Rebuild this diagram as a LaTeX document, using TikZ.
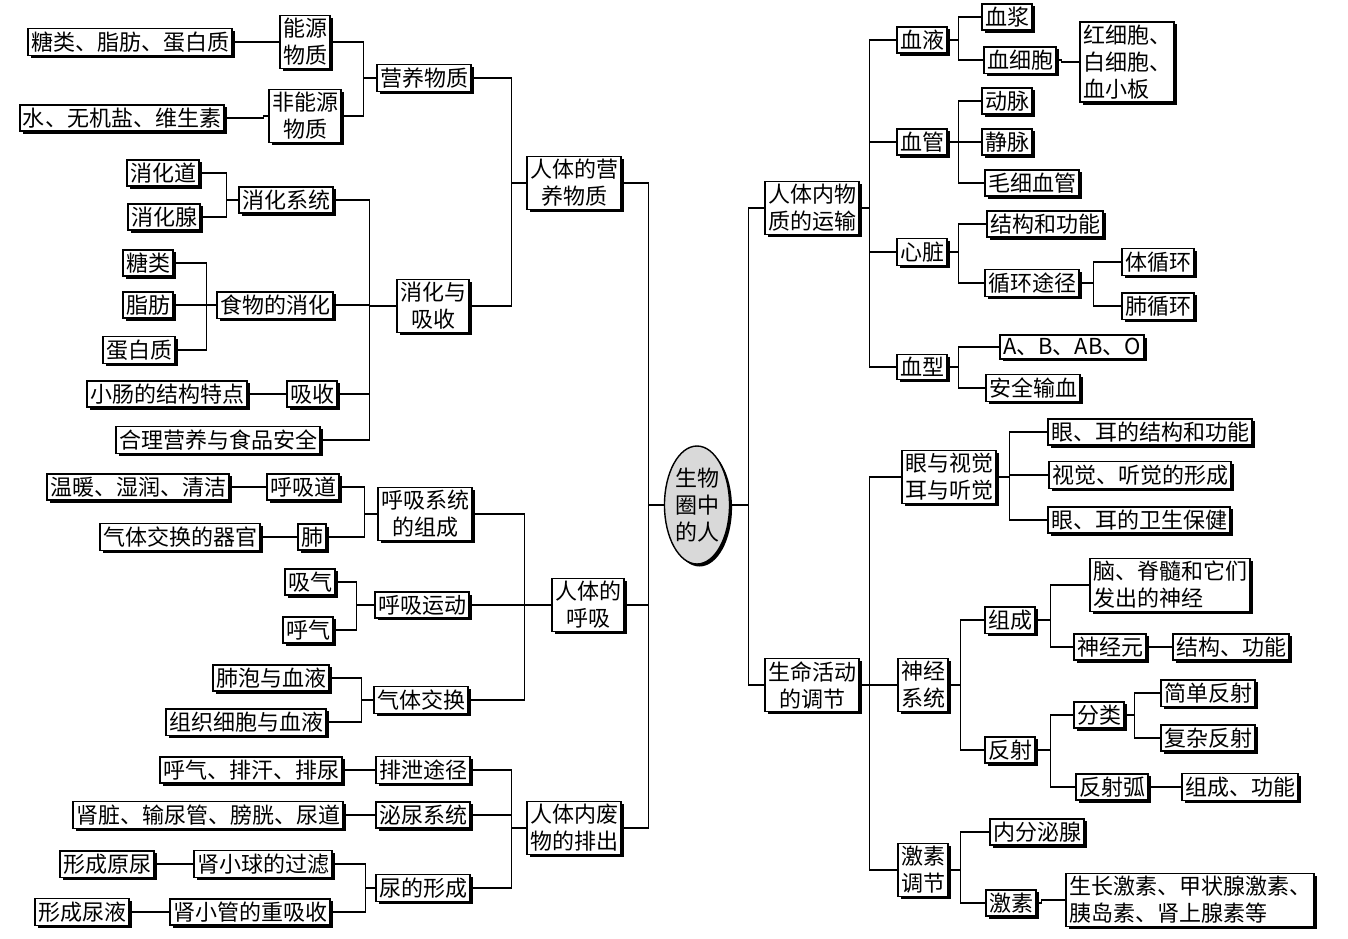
\documentclass[tikz,border=0pt]{standalone}
\usepackage{fontspec}
\newfontfamily\cjk{Noto Sans CJK SC}
\usetikzlibrary{shadows,shapes.geometric}
\newcommand\lk[3]{\draw[ln] (#2.east) -| ([xshift=-#3]#1.west) -- (#1.west);}
\newcommand\rk[3]{\draw[ln] (#1.east) -- ([xshift=#3]#1.east) |- (#2.west);}
\begin{document}
\begin{tikzpicture}[x=1pt,y=-1pt,
  font=\cjk\fontsize{22}{27}\selectfont,
  box/.style={draw,line width=1.4pt,fill=white,inner sep=3pt,align=center,
    drop shadow={shadow xshift=2.5pt,shadow yshift=-2.5pt,fill=black,opacity=1}},
  ln/.style={line width=1.4pt}]
\useasboundingbox (0,0) rectangle (1348,938);
\node[box,ellipse,fill=gray!30,inner sep=1pt,minimum width=60,minimum height=118] (c) at (697,505) {生物\\圈中\\的人};
% left
\node[box] (yy) at (574,183) {人体的营\\养物质};
\node[box] (hx) at (588,605) {人体的\\呼吸};
\node[box] (fw) at (574,828) {人体内废\\物的排出};
\node[box] (yywz) at (424,78) {营养物质};
\node[box] (xhxs) at (433,306) {消化与\\吸收};
\node[box] (nywz) at (305,42) {能源\\物质};
\node[box] (fny) at (305,116) {非能源\\物质};
\node[box] (tl1) at (130,42) {糖类、脂肪、蛋白质};
\node[box] (swy) at (122,118) {水、无机盐、维生素};
\node[box] (xhxt) at (286,200) {消化系统};
\node[box] (swxh) at (275,305) {食物的消化};
\node[box] (xs) at (312,394) {吸收};
\node[box] (hlyy) at (218,440) {合理营养与食品安全};
\node[box] (xhd) at (163,173) {消化道};
\node[box] (xhx) at (164,217) {消化腺};
\node[box] (tl) at (148,263) {糖类};
\node[box] (zf) at (148,305) {脂肪};
\node[box] (dbz) at (139,350) {蛋白质};
\node[box] (xc) at (167,394) {小肠的结构特点};
\node[box] (hxxt) at (425,514) {呼吸系统\\的组成};
\node[box] (hxyd) at (422,605) {呼吸运动};
\node[box] (qtjh) at (421,700) {气体交换};
\node[box] (hxd) at (303,487) {呼吸道};
\node[box] (fei) at (312,537) {肺};
\node[box] (wn) at (138,487) {温暖、湿润、清洁};
\node[box] (qtqg) at (180,537) {气体交换的器官};
\node[box] (xq) at (310,582) {吸气};
\node[box] (hq) at (308,630) {呼气};
\node[box] (fp) at (271,678) {肺泡与血液};
\node[box] (zz) at (246,722) {组织细胞与血液};
\node[box] (pxtj) at (423,770) {排泄途径};
\node[box] (mnxt) at (423,815) {泌尿系统};
\node[box] (ndxc) at (423,888) {尿的形成};
\node[box] (hqpn) at (251,770) {呼气、排汗、排尿};
\node[box] (sz) at (208,815) {肾脏、输尿管、膀胱、尿道};
\node[box] (sxq) at (263,864) {肾小球的过滤};
\node[box] (sxg) at (250,912) {肾小管的重吸收};
\node[box] (xcyn) at (107,864) {形成原尿};
\node[box] (xcny) at (82,912) {形成尿液};
% right
\node[box] (ys) at (812,208) {人体内物\\质的运输};
\node[box] (tj) at (812,685) {生命活动\\的调节};
\node[box] (xy) at (922,40) {血液};
\node[box] (xg) at (922,142) {血管};
\node[box] (xz) at (922,252) {心脏};
\node[box] (xx) at (922,367) {血型};
\node[box] (xj) at (1007,17) {血浆};
\node[box] (xxb) at (1020,60) {血细胞};
\node[box,align=left] (hxb) at (1127,62) {红细胞、\\白细胞、\\血小板};
\node[box] (dm) at (1007,101) {动脉};
\node[box] (jm) at (1007,142) {静脉};
\node[box] (mx) at (1032,183) {毛细血管};
\node[box] (jg) at (1045,224) {结构和功能};
\node[box] (xhtj) at (1032,283) {循环途径};
\node[box] (txh) at (1158,262) {体循环};
\node[box] (fxh) at (1158,306) {肺循环};
\node[box] (abo) at (1072,347) {A、B、AB、O};
\node[box] (aqsx) at (1033,388) {安全输血};
\node[box] (ysj) at (949,477) {眼与视觉\\耳与听觉};
\node[box] (sjxt) at (923,685) {神经\\系统};
\node[box] (jstj) at (923,870) {激素\\调节};
\node[box] (e1) at (1150,432) {眼、耳的结构和功能};
\node[box] (e2) at (1140,475) {视觉、听觉的形成};
\node[box] (e3) at (1139,520) {眼、耳的卫生保健};
\node[box] (zc) at (1010,620) {组成};
\node[box] (fs) at (1010,750) {反射};
\node[box,align=left] (nao) at (1170,585) {脑、脊髓和它们\\发出的神经};
\node[box] (sjy) at (1110,647) {神经元};
\node[box] (jggn) at (1231,647) {结构、功能};
\node[box] (fl) at (1099,715) {分类};
\node[box] (fsh) at (1112,787) {反射弧};
\node[box] (jd) at (1208,693) {简单反射};
\node[box] (fz) at (1208,738) {复杂反射};
\node[box] (zcgn) at (1240,787) {组成、功能};
\node[box] (nfm) at (1037,832) {内分泌腺};
\node[box] (js) at (1011,903) {激素};
\node[box,align=left] (szjs) at (1190,900) {生长激素、甲状腺激素、\\胰岛素、肾上腺素等};
% connectors left
\lk{c}{yy}{15}\lk{c}{hx}{15}\lk{c}{fw}{15}
\lk{yy}{yywz}{15}\lk{yy}{xhxs}{15}
\lk{yywz}{nywz}{13}\lk{yywz}{fny}{13}
\lk{nywz}{tl1}{5}\lk{fny}{swy}{5}
\lk{xhxs}{xhxt}{27}\lk{xhxs}{swxh}{27}\lk{xhxs}{xs}{27}\lk{xhxs}{hlyy}{27}
\lk{xhxt}{xhd}{12}\lk{xhxt}{xhx}{12}
\lk{swxh}{tl}{10}\lk{swxh}{zf}{10}\lk{swxh}{dbz}{10}
\lk{xs}{xc}{5}
\lk{hx}{hxxt}{27}\lk{hx}{hxyd}{27}\lk{hx}{qtjh}{27}
\lk{hxxt}{hxd}{13}\lk{hxxt}{fei}{13}
\lk{hxd}{wn}{5}\lk{fei}{qtqg}{5}
\lk{hxyd}{xq}{18}\lk{hxyd}{hq}{18}
\lk{qtjh}{fp}{12}\lk{qtjh}{zz}{12}
\lk{fw}{pxtj}{15}\lk{fw}{mnxt}{15}\lk{fw}{ndxc}{15}
\lk{pxtj}{hqpn}{5}\lk{mnxt}{sz}{5}
\lk{ndxc}{sxq}{10}\lk{ndxc}{sxg}{10}
\lk{sxq}{xcyn}{5}\lk{sxg}{xcny}{5}
% connectors right
\rk{c}{ys}{18}\rk{c}{tj}{18}
\rk{ys}{xy}{10}\rk{ys}{xg}{10}\rk{ys}{xz}{10}\rk{ys}{xx}{10}
\rk{xy}{xj}{11}\rk{xy}{xxb}{11}\rk{xxb}{hxb}{5}
\rk{xg}{dm}{11}\rk{xg}{jm}{11}\rk{xg}{mx}{11}
\rk{xz}{jg}{11}\rk{xz}{xhtj}{11}
\rk{xhtj}{txh}{14}\rk{xhtj}{fxh}{14}
\rk{xx}{abo}{11}\rk{xx}{aqsx}{11}
\rk{tj}{ysj}{10}\rk{tj}{sjxt}{10}\rk{tj}{jstj}{10}
\rk{ysj}{e1}{13}\rk{ysj}{e2}{13}\rk{ysj}{e3}{13}
\rk{sjxt}{zc}{12}\rk{sjxt}{fs}{12}
\rk{zc}{nao}{15}\rk{zc}{sjy}{15}\rk{sjy}{jggn}{5}
\rk{fs}{fl}{15}\rk{fs}{fsh}{15}
\rk{fl}{jd}{10}\rk{fl}{fz}{10}\rk{fsh}{zcgn}{5}
\rk{jstj}{nfm}{12}\rk{jstj}{js}{12}\rk{js}{szjs}{5}
\end{tikzpicture}
\end{document}
